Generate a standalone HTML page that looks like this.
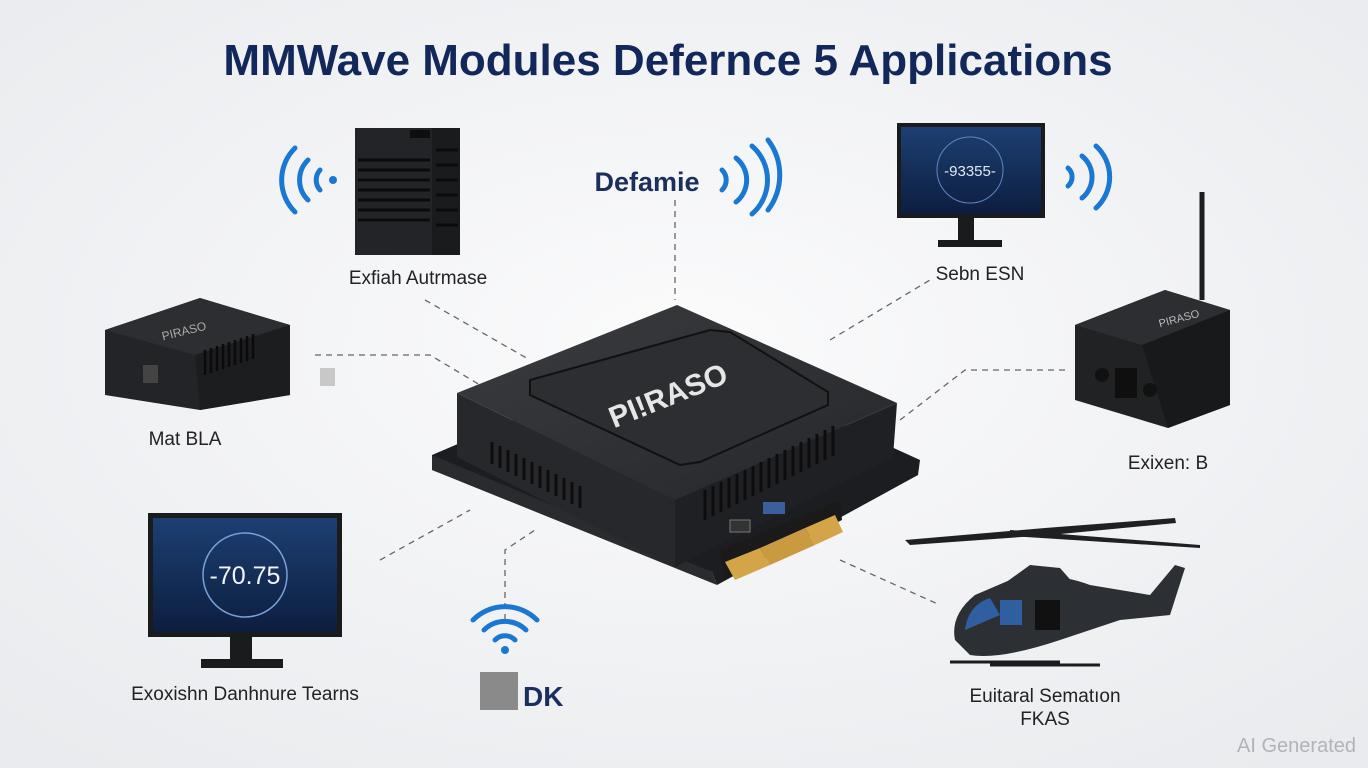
<!DOCTYPE html>
<html><head><meta charset="utf-8"><style>
html,body{margin:0;padding:0;width:1368px;height:768px;overflow:hidden;background:#f3f4f6}
svg{display:block}
text{font-family:"Liberation Sans",sans-serif}
</style></head><body>
<svg width="1368" height="768" viewBox="0 0 1368 768" xmlns="http://www.w3.org/2000/svg">
<defs>
<radialGradient id="bg" cx="50%" cy="45%" r="70%"><stop offset="0" stop-color="#fbfbfc"/><stop offset="1" stop-color="#e9ebee"/></radialGradient>
<linearGradient id="top" x1="0" y1="0" x2="1" y2="1"><stop offset="0" stop-color="#3a3c40"/><stop offset="1" stop-color="#25272a"/></linearGradient>
<linearGradient id="scr" x1="0" y1="0" x2="0" y2="1"><stop offset="0" stop-color="#1d3f73"/><stop offset="1" stop-color="#0c1e3e"/></linearGradient>
</defs>
<rect width="1368" height="768" fill="url(#bg)"/>
<text x="668" y="75" text-anchor="middle" font-size="44" font-weight="bold" fill="#13285a">MMWave Modules Defernce 5 Applications</text>

<g stroke="#666" stroke-width="1.3" stroke-dasharray="6,5" fill="none">
<path d="M675 200 V300"/>
<path d="M425 300 L530 360"/>
<path d="M315 355 H430 L480 385"/>
<path d="M830 340 L930 280"/>
<path d="M900 420 L965 370 H1065"/>
<path d="M380 560 L470 510"/>
<path d="M505 620 V550 L535 530"/>
<path d="M840 560 L940 605"/>
</g>

<polygon points="432,455 678,350 920,460 918,475 717,585 712,572 432,470" fill="#1c1d20"/>
<polygon points="432,455 712,572 717,585 432,470" fill="#2a2b2e"/>
<polygon points="720,550 840,500 842,520 725,578" fill="#1a1a1a"/>
<polygon points="725,562 760,548 770,565 735,580" fill="#d4a548"/>
<polygon points="760,548 805,528 815,545 770,565" fill="#c99a40"/>
<polygon points="805,528 835,515 843,532 815,545" fill="#d4a548"/>
<polygon points="457,393 675,500 675,567 457,457" fill="#26282b"/>
<polygon points="675,500 897,403 893,457 675,567" fill="#1e2023"/>
<polygon points="457,393 677,305 897,403 675,500" fill="url(#top)"/>
<polygon points="530,380 530,395 680,465 700,462 828,405 828,392 730,332 710,330" fill="#2c2e32" stroke="#111" stroke-width="2"/>
<text x="672" y="405" text-anchor="middle" font-size="30" font-weight="bold" fill="#e6e6e6" transform="rotate(-22 672 405)">PI!RASO</text>
<g stroke="#0d0d0e" stroke-width="3">
<path d="M492 442 v22 M500 446 v22 M508 450 v22 M516 454 v22 M524 458 v22 M532 462 v22 M540 466 v22 M548 470 v22 M556 474 v22 M564 478 v22 M572 482 v22 M580 486 v22"/>
<path d="M705 490 v30 M713 486 v30 M721 482 v30 M729 478 v30 M737 474 v30 M745 470 v30 M753 466 v30 M761 462 v30 M769 458 v30 M777 454 v30 M785 450 v30 M793 446 v30 M801 442 v30 M809 438 v30 M817 434 v30 M825 430 v30 M833 426 v30"/>
</g>
<rect x="763" y="502" width="22" height="12" fill="#3a5f9a"/>
<rect x="730" y="520" width="20" height="12" fill="#333" stroke="#777"/>

<rect x="355" y="128" width="105" height="127" fill="#222427"/>
<rect x="432" y="128" width="28" height="127" fill="#1a1b1d"/>
<g stroke="#0b0b0c" stroke-width="3"><path d="M358 160 H430 M358 170 H430 M358 180 H430 M358 190 H430 M358 200 H430 M358 210 H430 M358 220 H430 M436 150 H458 M436 165 H458 M436 180 H458 M436 195 H458 M436 210 H458 M436 225 H458"/></g>
<rect x="410" y="130" width="20" height="8" fill="#0e0e0e"/>
<g stroke="#1a78d2" stroke-width="5" fill="none" stroke-linecap="round">
<path d="M320 170 a15 15 0 0 0 0 20"/><path d="M308 160 a28 28 0 0 0 0 40"/><path d="M295 148 a45 45 0 0 0 0 64"/>
</g><circle cx="333" cy="180" r="4" fill="#1a78d2"/>
<text x="418" y="284" text-anchor="middle" font-size="19" fill="#222">Exfiah Autrmase</text>

<text x="647" y="191" text-anchor="middle" font-size="27" font-weight="bold" fill="#1b2f5e">Defamie</text>
<g stroke="#1a78d2" stroke-width="5" fill="none" stroke-linecap="round">
<path d="M722 170 a14 14 0 0 1 0 20"/><path d="M736 158 a28 28 0 0 1 0 44"/><path d="M752 146 a45 45 0 0 1 0 68"/><path d="M768 140 a58 58 0 0 1 0 70"/>
</g>

<rect x="897" y="123" width="148" height="95" fill="#1a1b1d"/>
<rect x="901" y="127" width="140" height="87" fill="url(#scr)"/>
<circle cx="970" cy="170" r="33" fill="none" stroke="#5d86c0" stroke-width="1"/>
<text x="970" y="176" text-anchor="middle" font-size="15" fill="#e0e8f5">-93355-</text>
<rect x="958" y="218" width="16" height="22" fill="#1a1b1d"/>
<rect x="938" y="240" width="64" height="7" fill="#1a1b1d"/>
<g stroke="#1a78d2" stroke-width="5" fill="none" stroke-linecap="round">
<path d="M1068 168 a12 12 0 0 1 0 18"/><path d="M1082 156 a27 27 0 0 1 0 42"/><path d="M1096 146 a42 42 0 0 1 0 62"/>
</g>
<text x="980" y="280" text-anchor="middle" font-size="19" fill="#222">Sebn ESN</text>

<polygon points="105,330 200,298 290,325 290,395 200,410 105,395" fill="#222427"/>
<polygon points="105,330 200,298 290,325 195,355" fill="#2c2e31"/>
<polygon points="195,355 290,325 290,395 200,410" fill="#1c1d1f"/>
<text x="185" y="335" text-anchor="middle" font-size="12" fill="#aaa" transform="rotate(-14 185 335)">PIRASO</text>
<rect x="143" y="365" width="15" height="18" fill="#444"/>
<g stroke="#0b0b0c" stroke-width="2.5"><path d="M205 350 v25 M211 348 v25 M217 346 v25 M223 344 v25 M229 342 v25 M235 340 v25 M241 338 v25 M247 336 v25 M253 334 v25"/></g>
<rect x="320" y="368" width="15" height="18" fill="#c8c8c8"/>
<text x="185" y="445" text-anchor="middle" font-size="19" fill="#222">Mat BLA</text>

<line x1="1202" y1="192" x2="1202" y2="300" stroke="#1d1e20" stroke-width="5"/>
<polygon points="1075,325 1165,290 1230,310 1230,405 1168,428 1075,400" fill="#202224"/>
<polygon points="1075,325 1165,290 1230,310 1142,345" fill="#2c2e31"/>
<polygon points="1142,345 1230,310 1230,405 1168,428" fill="#18191b"/>
<text x="1180" y="322" text-anchor="middle" font-size="11" fill="#bbb" transform="rotate(-15 1180 322)">PIRASO</text>
<rect x="1115" y="368" width="22" height="30" fill="#0f0f10"/>
<circle cx="1102" cy="375" r="7" fill="#111"/><circle cx="1150" cy="390" r="7" fill="#111"/>
<text x="1168" y="469" text-anchor="middle" font-size="19" fill="#222">Exixen: B</text>

<rect x="148" y="513" width="194" height="124" fill="#1a1b1d"/>
<rect x="153" y="518" width="184" height="114" fill="url(#scr)"/>
<circle cx="245" cy="575" r="42" fill="none" stroke="#7aa0d6" stroke-width="1.5"/>
<text x="245" y="584" text-anchor="middle" font-size="25" fill="#f2f5fa">-70.75</text>
<rect x="230" y="637" width="22" height="22" fill="#1a1b1d"/>
<rect x="201" y="659" width="82" height="9" fill="#1a1b1d"/>
<text x="245" y="700" text-anchor="middle" font-size="19" fill="#222">Exoxishn Danhnure Tearns</text>

<g stroke="#1a78d2" stroke-width="5" fill="none" stroke-linecap="round">
<path d="M495 640 a14 14 0 0 1 20 0"/><path d="M484 630 a30 30 0 0 1 42 0"/><path d="M473 620 a45 45 0 0 1 64 0"/>
</g><circle cx="505" cy="650" r="4" fill="#1a78d2"/>
<rect x="480" y="672" width="38" height="38" fill="#8a8a8a"/>
<text x="523" y="706" font-size="28" font-weight="bold" fill="#1b2f5e">DK</text>

<g fill="#2c2f33">
<path d="M905 540 L1045 528 L1175 518 L1176 523 L1050 535 L910 545 Z" fill="#1e2022"/>
<path d="M1010 530 L1200 545 L1200 548 L1010 536 Z" fill="#1e2022"/>
<path d="M955 640 Q950 615 975 595 L1010 580 Q1050 570 1090 585 L1150 595 L1175 565 L1185 568 L1170 615 L1120 620 L1060 640 Q1000 660 970 655 Z"/>
<path d="M1005 583 L1030 565 L1060 568 L1075 585 Z"/>
</g>
<path d="M965 630 Q968 605 990 598 L1000 615 Z" fill="#2f5fa0"/>
<rect x="1000" y="600" width="22" height="25" fill="#2f5fa0"/>
<rect x="1035" y="600" width="25" height="30" fill="#111"/>
<g stroke="#1b1c1e" stroke-width="3"><path d="M950 662 H1060 M990 665 H1100"/></g>
<text x="1045" y="702" text-anchor="middle" font-size="19" fill="#222">Euitaral Sematıon</text>
<text x="1045" y="725" text-anchor="middle" font-size="19" fill="#222">FKAS</text>

<text x="1356" y="752" text-anchor="end" font-size="20" fill="#b0b3b8">AI Generated</text>
</svg>
</body></html>
